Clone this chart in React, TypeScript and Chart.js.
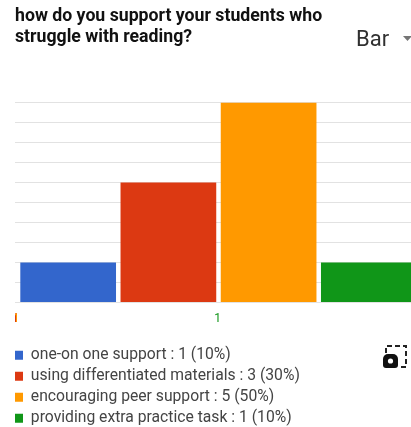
import React, { useEffect, useRef } from "react";
import { Chart, registerables } from "chart.js";

Chart.register(...registerables);

const titleLines = ["how do you support your students who", "struggle with reading?"];
const categories = ["1"];
const seriesNames = [
  "one-on one support",
  "using differentiated materials",
  "encouraging peer support",
  "providing extra practice task",
];
const seriesValues = [1, 3, 5, 1];
const seriesPercents = [10, 30, 50, 10];
const seriesColors = ["#3366cc", "#dc3912", "#ff9900", "#109618"];
const chartTypeLabel = "Bar";

const legendRowGap = 5.3;

// Toolbar text, dropdown arrow, clipped first tick and the screenshot icon.
const decorations = {
  id: "decorations",
  afterLayout(chart: Chart) {
    // Pull the legend flush with the plot's left edge and down under the tick row.
    const legend = chart.legend as any;
    legend.left -= legendRowGap;
    legend.top += 9;
  },
  afterDraw(chart: Chart) {
    const ctx = chart.ctx;
    ctx.save();
    ctx.fillStyle = "#303030";
    ctx.font = "22px Roboto";
    ctx.textBaseline = "alphabetic";
    ctx.fillText(chartTypeLabel, 356, 46);

    ctx.fillStyle = "#757575";
    ctx.beginPath();
    ctx.moveTo(403, 36);
    ctx.lineTo(412, 36);
    ctx.lineTo(407.5, 41);
    ctx.closePath();
    ctx.fill();

    // Leftmost tick labels, stacked and cut off by the plot edge.
    ctx.save();
    ctx.beginPath();
    ctx.rect(15, 311, 2, 12);
    ctx.clip();
    ctx.font = "bold 12px Roboto";
    ctx.fillStyle = "#dc3912";
    ctx.fillText(categories[0], 12, 322);
    ctx.fillStyle = "#ff9900";
    ctx.fillText(categories[0], 13, 322);
    ctx.restore();

    // Camera glyph inside a partly dashed frame.
    ctx.strokeStyle = "#222222";
    ctx.lineWidth = 2;
    ctx.setLineDash([5, 3]);
    ctx.beginPath();
    ctx.moveTo(386, 353);
    ctx.lineTo(386, 346);
    ctx.lineTo(406, 346);
    ctx.lineTo(406, 367);
    ctx.lineTo(400, 367);
    ctx.stroke();
    ctx.setLineDash([]);
    ctx.fillStyle = "#111111";
    ctx.beginPath();
    ctx.roundRect(383, 354, 15, 14, [5, 5, 3, 3]);
    ctx.fill();
    ctx.fillStyle = "#ffffff";
    ctx.beginPath();
    ctx.arc(390.5, 361, 2.6, 0, Math.PI * 2);
    ctx.fill();
    ctx.restore();
  },
};

export default function App() {
  const canvasRef = useRef<HTMLCanvasElement | null>(null);

  useEffect(() => {
    const canvas = canvasRef.current;
    if (!canvas) return;
    const chart = new Chart(canvas, {
      type: "bar",
      data: {
        labels: categories,
        datasets: seriesNames.map((name, i) => ({
          label: `${name} : ${seriesValues[i]} (${seriesPercents[i]}%)`,
          data: [seriesValues[i]],
          backgroundColor: seriesColors[i],
          barPercentage: 0.955,
          categoryPercentage: 0.985,
        })),
      },
      options: {
        animation: false,
        responsive: false,
        layout: { padding: { left: 15, right: 0, top: 6, bottom: 0 } },
        plugins: {
          tooltip: { enabled: false },
          title: {
            display: true,
            text: titleLines,
            align: "start",
            color: "#111111",
            font: { family: "Roboto", size: 17.7, weight: "bold", lineHeight: 1.2 },
            padding: { top: 0, bottom: 54 },
          },
          legend: {
            position: "bottom",
            align: "start",
            maxWidth: 300,
            labels: {
              color: "#444444",
              boxWidth: 8,
              boxHeight: 9,
              padding: legendRowGap,
              font: { family: "Roboto", size: 15.7 },
            },
          },
        },
        scales: {
          x: {
            grid: { display: false, drawTicks: false },
            border: { display: false },
            ticks: {
              color: "#109618",
              font: { family: "Roboto", size: 12 },
              labelOffset: -1,
              padding: 9,
            },
            afterFit(scale) {
              scale.height = 30.4;
            },
          },
          y: {
            min: 0,
            max: 5,
            position: "left",
            grid: { color: "#e2e2e2", drawTicks: false },
            border: { display: false },
            ticks: { display: false, stepSize: 0.5 },
            afterFit(scale) {
              scale.width = 0;
            },
          },
        },
      },
      plugins: [decorations],
    });
    return () => chart.destroy();
  }, []);

  return (
    <div style={{ position: "fixed", inset: 0, overflow: "hidden", background: "#ffffff" }}>
      <canvas ref={canvasRef} width={422} height={427} style={{ display: "block" }} />
    </div>
  );
}
